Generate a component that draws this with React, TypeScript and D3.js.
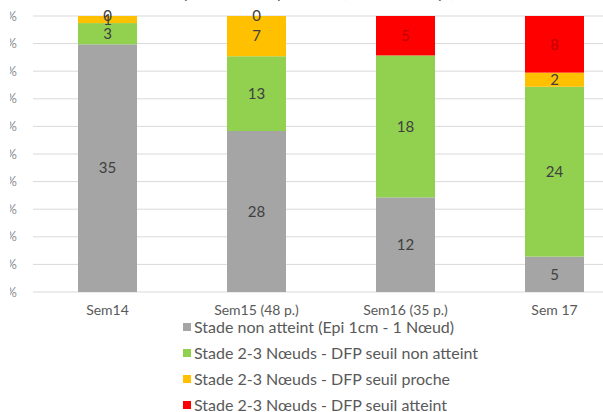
import * as React from 'react';
import * as d3 from 'd3';

const categories = ['Sem14', 'Sem15 (48 p.)', 'Sem16 (35 p.)', 'Sem 17'];
const seriesNames = [
  'Stade non atteint (Epi 1cm - 1 Nœud)',
  'Stade 2-3 Nœuds - DFP seuil non atteint',
  'Stade 2-3 Nœuds - DFP seuil proche',
  'Stade 2-3 Nœuds - DFP seuil atteint',
];
const nonAtteint = [35, 28, 12, 5];
const seuilNonAtteint = [3, 13, 18, 24];
const seuilProche: (number | null)[] = [1, 7, null, 2];
const seuilAtteint: (number | null)[] = [0, 0, 5, 8];
const yTicks = [0, 0.1, 0.2, 0.3, 0.4, 0.5, 0.6, 0.7, 0.8, 0.9, 1];
const colors = ['#a5a5a5', '#92d050', '#ffc000', '#ff0000'];

const W = 603;
const H = 412;
const font = 'Lato, "Open Sans", sans-serif';

export default function App() {
  const x = d3.scaleBand<string>()
    .domain(categories)
    .range([33, 629])
    .paddingInner(0.604)
    .paddingOuter(0.302);
  const y = d3.scaleLinear().domain([0, 1]).range([292, 16]);

  const series = [nonAtteint, seuilNonAtteint, seuilProche, seuilAtteint];
  const rows = categories.map((c, i) => {
    const row: any = { cat: c };
    series.forEach((s, k) => { row['s' + k] = s[i] ?? 0; });
    return row;
  });
  const keys = series.map((_, k) => 's' + k);
  const stacked = d3.stack<any>().keys(keys).offset(d3.stackOffsetExpand)(rows);

  return (
    <div style={{ position: 'fixed', left: 0, top: 0 }}>
      <svg width={W} height={H} style={{ display: 'block', background: '#fff' }}>
        <defs>
          <clipPath id="yclip">
            <rect x={10} y={0} width={30} height={H} />
          </clipPath>
        </defs>
        <text x={455} y={-2.5} textAnchor="end" fontFamily={font} fontSize={16} fill="#595959">
          Répartition des parcelles (réseau 2016 p.)
        </text>
        {yTicks.map((t) => (
          <g key={t}>
            <line x1={33} x2={W} y1={y(t)} y2={y(t)} stroke="#d9d9d9" strokeWidth={1} />
            <text x={17} y={y(t)} dy="0.35em" textAnchor="end" fontFamily={font} fontSize={13}
              fill="#8c8c8c" clipPath="url(#yclip)">
              {Math.round(t * 100) + '%'}
            </text>
          </g>
        ))}
        {stacked.map((layer, k) => (
          <g key={k} fill={colors[k]}>
            {layer.map((d, i) => (
              <rect key={i} x={x(categories[i])} width={x.bandwidth()} y={y(d[1])} height={y(d[0]) - y(d[1])} />
            ))}
          </g>
        ))}
        {stacked.map((layer, k) => (
          <g key={'l' + k}>
            {layer.map((d, i) => {
              const v = series[k][i];
              if (v === null || v === undefined) return null;
              const onRed = k === 3 && v > 0;
              return (
                <text key={i} x={(x(categories[i]) as number) + x.bandwidth() / 2} y={(y(d[0]) + y(d[1])) / 2}
                  dy="0.35em" textAnchor="middle" fontFamily={font} fontSize={15}
                  fill={onRed ? '#c00000' : '#404040'}>
                  {v}
                </text>
              );
            })}
          </g>
        ))}
        {categories.map((c) => (
          <text key={c} x={(x(c) as number) + x.bandwidth() / 2} y={310} dy="0.35em" textAnchor="middle"
            fontFamily={font} fontSize={14} fill="#595959">
            {c}
          </text>
        ))}
        {seriesNames.map((n, k) => (
          <g key={n} transform={`translate(183, ${327 + k * 26})`}>
            <rect x={0} y={-4} width={8} height={8} fill={colors[k]} />
            <text x={11} y={0} dy="0.35em" fontFamily={font} fontSize={16} fill="#595959">{n}</text>
          </g>
        ))}
      </svg>
    </div>
  );
}
